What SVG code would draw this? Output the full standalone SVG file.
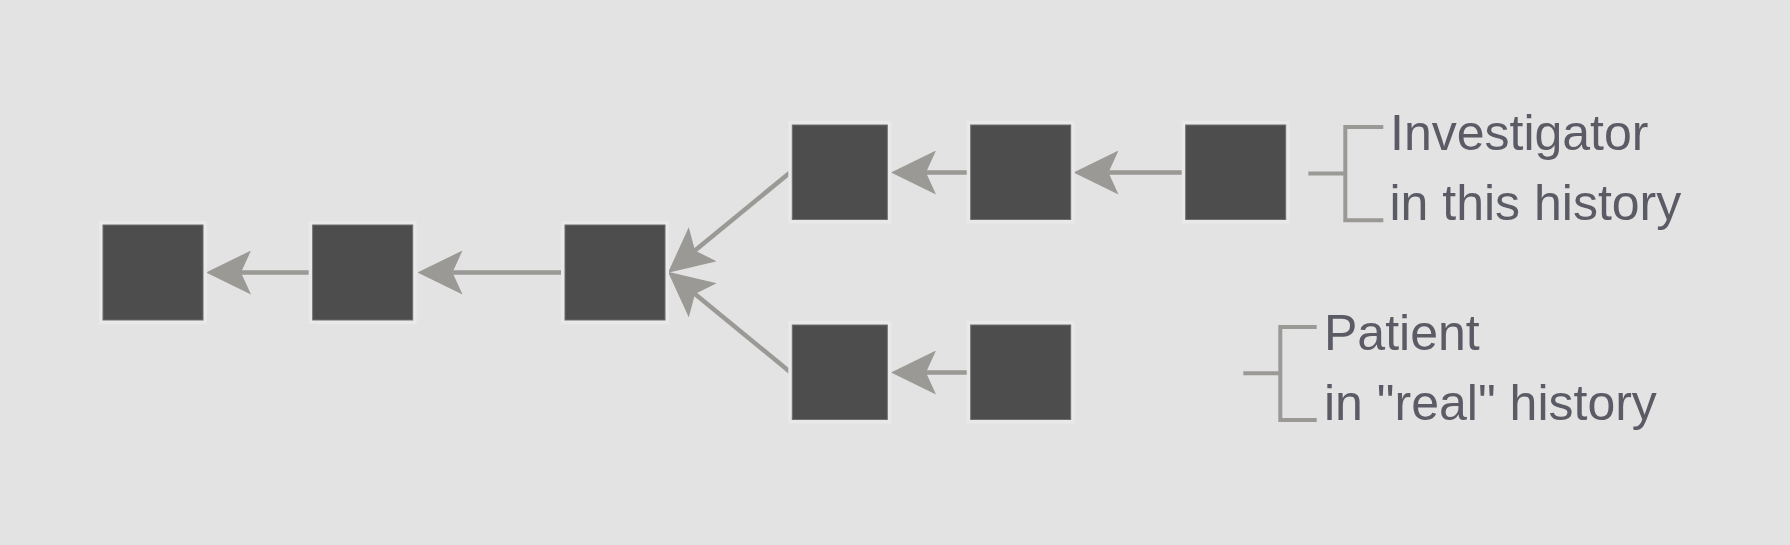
<svg xmlns="http://www.w3.org/2000/svg" width="1790" height="545" viewBox="0 0 1790 545">
<style>
.halo{fill:#e9e9e9}
.box{fill:#4d4d4d;stroke:#6e6e6e;stroke-width:1}
.edge{stroke:#9a9995;stroke-width:4.5;fill:none}
.brk{stroke:#9a9995;stroke-width:4;fill:none}
.lbl{font-family:"Liberation Sans",Arial,sans-serif;font-size:50px;fill:#5b5b66}
</style>
<defs>
<marker id="ah" markerUnits="userSpaceOnUse" viewBox="0 0 45 44" markerWidth="45" markerHeight="44" refX="10" refY="22" orient="auto">
<path d="M0,0 L45,22 L0,44 L10,22 Z" fill="#9a9995"/>
</marker>
</defs>
<rect width="1790" height="545" fill="#e3e3e3"/>
<g id="connectors">
<line class="edge" x1="310" y1="272.5" x2="241" y2="272.5" marker-end="url(#ah)"/>
<line class="edge" x1="562.5" y1="272.5" x2="452.5" y2="272.5" marker-end="url(#ah)"/>
<line class="edge" x1="791" y1="171.7" x2="695" y2="250.6" marker-end="url(#ah)"/>
<line class="edge" x1="791" y1="372.7" x2="695" y2="294" marker-end="url(#ah)"/>
<line class="edge" x1="968.3" y1="172.5" x2="926" y2="172.5" marker-end="url(#ah)"/>
<line class="edge" x1="1183.5" y1="172.5" x2="1108.5" y2="172.5" marker-end="url(#ah)"/>
<line class="edge" x1="968.3" y1="372.5" x2="926" y2="372.5" marker-end="url(#ah)"/>
</g>
<g id="n1"><rect class="halo" x="99" y="221" width="108" height="103"/><rect class="box" x="103" y="225" width="100" height="95"/></g>
<g id="n2"><rect class="halo" x="308.7" y="221" width="108" height="103"/><rect class="box" x="312.7" y="225" width="100" height="95"/></g>
<g id="n3"><rect class="halo" x="561" y="221" width="108" height="103"/><rect class="box" x="565" y="225" width="100" height="95"/></g>
<g id="nA"><rect class="halo" x="788.3" y="121" width="103" height="102.5"/><rect class="box" x="792.3" y="125" width="95" height="94.5"/></g>
<g id="nB"><rect class="halo" x="966.7" y="121" width="108" height="102.5"/><rect class="box" x="970.7" y="125" width="100" height="94.5"/></g>
<g id="nC"><rect class="halo" x="1181.7" y="121" width="108" height="102.5"/><rect class="box" x="1185.7" y="125" width="100" height="94.5"/></g>
<g id="nD"><rect class="halo" x="788.3" y="321" width="103" height="102.5"/><rect class="box" x="792.3" y="325" width="95" height="94.5"/></g>
<g id="nE"><rect class="halo" x="966.7" y="321" width="108" height="102.5"/><rect class="box" x="970.7" y="325" width="100" height="94.5"/></g>
<g id="legend-investigator">
<path class="brk" d="M1308.3,173.5 H1345.3 M1383.3,127 H1345.3 V220.3 H1383.3"/>
<text class="lbl" x="1390" y="150">Investigator</text>
<text class="lbl" x="1389.5" y="220">in this history</text>
</g>
<g id="legend-patient">
<path class="brk" d="M1243.3,373.3 H1280.3 M1316.7,327 H1280.3 V420 H1316.7"/>
<text class="lbl" x="1324" y="349.5">Patient</text>
<text class="lbl" x="1324" y="420">in "real" history</text>
</g>
</svg>
